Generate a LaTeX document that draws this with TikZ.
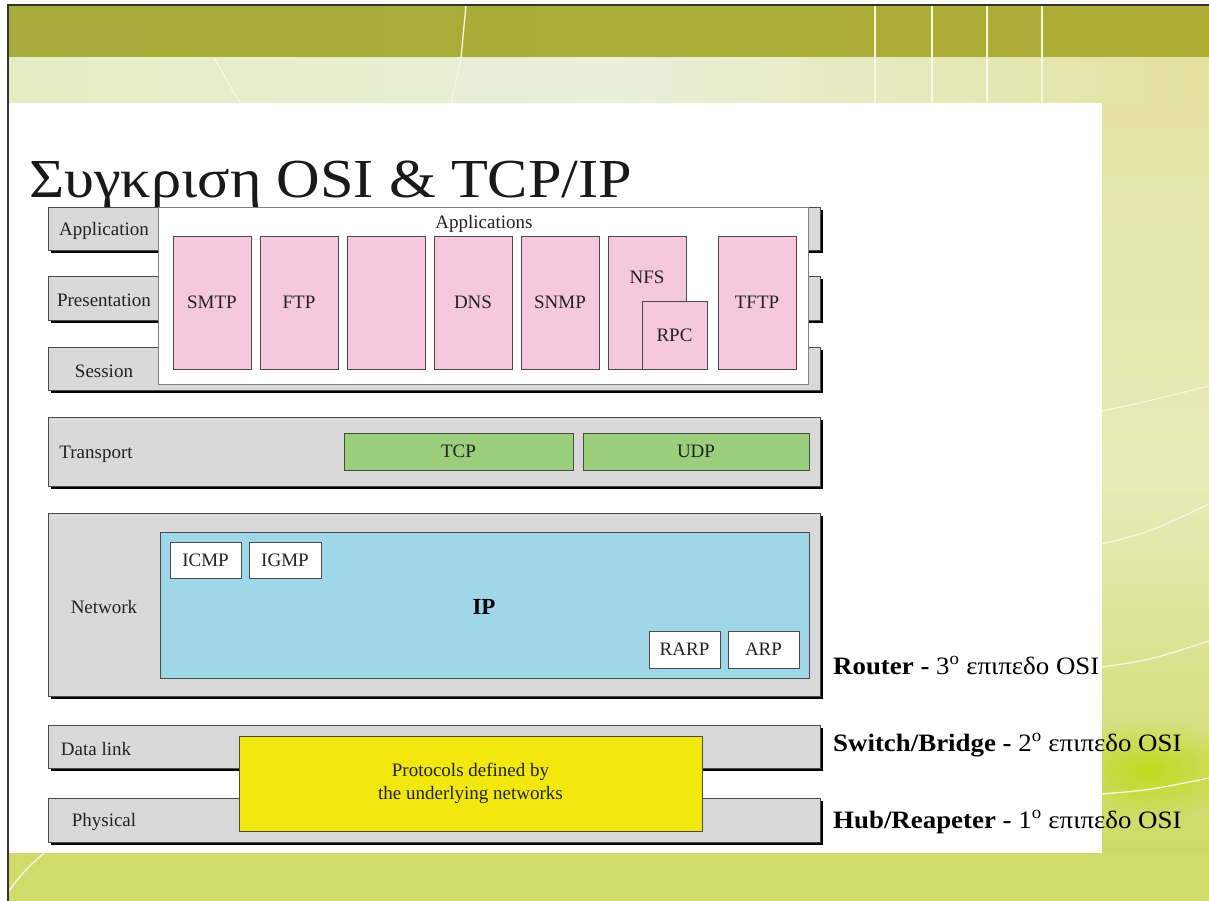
\documentclass[tikz,border=0pt]{standalone}
\usepackage{fontspec}
\setmainfont{Liberation Serif}
\usetikzlibrary{shadows,fadings}

% slide theme colours
\definecolor{bandDark}{HTML}{A6AD3A}
\definecolor{bandDarkR}{HTML}{AEAE36}
\definecolor{bandLightL}{HTML}{E6ECC2}
\definecolor{bandLightM}{HTML}{EAF0DA}
\definecolor{bandLightR}{HTML}{E3E29E}
\definecolor{sideTop}{HTML}{E4E3A4}
\definecolor{sideMid}{HTML}{E6EBB8}
\definecolor{sideLow}{HTML}{CDDA64}
\definecolor{bottomBand}{HTML}{CFDC6C}
\definecolor{glow}{HTML}{C2D81E}
\definecolor{themeLine}{HTML}{F6F8E0}
% diagram colours
\definecolor{barGray}{HTML}{D9D9D9}
\definecolor{edgeGray}{HTML}{4A4A4A}
\definecolor{appPink}{HTML}{F6C8DF}
\definecolor{tcpGreen}{HTML}{9BCF7C}
\definecolor{ipBlue}{HTML}{9ED8E8}
\definecolor{netYellow}{HTML}{F2E80E}
\definecolor{inkText}{HTML}{222222}

\tikzfading[name=softglow, inner color=transparent!0, outer color=transparent!100]

% device label, set slightly wide
\newcommand\devtext[2]{\scalebox{1.075}[1]{\textbf{#1 -} #2\textsuperscript{o} επιπεδο OSI}}

\begin{document}
\begin{tikzpicture}[x=1pt,y=-1pt,
  txt/.style={font=\fontsize{19}{23}\selectfont, text=inkText, inner sep=0pt},
  layerbar/.style={draw=edgeGray, line width=0.9pt, fill=barGray, inner sep=0pt,
    general shadow={fill=black, shadow xshift=3pt, shadow yshift=-3pt}},
  appframe/.style={draw=edgeGray!70, line width=0.9pt, fill=white, inner sep=0pt},
  protobox/.style={draw=edgeGray, line width=0.9pt, inner sep=0pt,
    font=\fontsize{19}{23}\selectfont, text=inkText},
  pinkbox/.style={protobox, fill=appPink, minimum width=78pt, minimum height=133pt},
  greenbox/.style={protobox, fill=tcpGreen, minimum height=37pt},
  smallbox/.style={protobox, fill=white, minimum width=71pt, minimum height=36pt},
  devlabel/.style={font=\fontsize{25}{30}\selectfont, text=black, anchor=base west, inner sep=0pt},
  themeline/.style={draw=themeLine, line width=1.3pt}
]
\useasboundingbox (0,0) rectangle (1209,901);

% ---- slide background ----
\fill[white] (0,0) rectangle (1209,901);
\shade[left color=bandDark, right color=bandDarkR] (8,5) rectangle (1209,58);
\shade[left color=bandLightL, right color=bandLightR, middle color=bandLightM] (8,58) rectangle (1209,103);
\shade[top color=sideTop, bottom color=sideLow, middle color=sideMid] (1102,103) rectangle (1209,860);
\fill[glow, path fading=softglow] (1150,770) ellipse (95pt and 50pt);
\fill[bottomBand] (8,853) rectangle (1209,901);
\fill[white] (8,103) rectangle (1102,853);

% decorative lines of the theme
\draw[themeline] (466,5) -- (461,58) -- (451,103);
\draw[themeline] (214,58) -- (240,103);
\foreach \xx in {875,932,987,1042} \draw[themeline] (\xx,5) -- (\xx,103);
\draw[themeline] (1102,411) .. controls (1140,403) .. (1209,386);
\draw[themeline] (1102,544) .. controls (1150,532) .. (1209,504);
\draw[themeline] (1102,667) .. controls (1150,660) .. (1209,641);
\draw[themeline] (1102,794) .. controls (1150,790) .. (1209,778);
\draw[themeline] (44,853) .. controls (25,870) .. (8,892);
\draw[draw=black!80, line width=1.4pt] (8,901) -- (8,5) -- (1209,5);

% ---- title ----
\node[anchor=base west, inner sep=0pt, font=\fontsize{55}{60}\selectfont, text=black!90]
  (title) at (29,198) {\scalebox{1.097}[1]{Συγκριση OSI \& TCP/IP}};

% ---- OSI layer bars ----
\node[layerbar, minimum width=772pt, minimum height=43pt] (appbar)  at (434,228.5) {};
\node[layerbar, minimum width=772pt, minimum height=44pt] (presbar) at (434,298) {};
\node[layerbar, minimum width=772pt, minimum height=43pt] (sessbar) at (434,368.5) {};
\node[layerbar, minimum width=772pt, minimum height=69pt] (transbar) at (434,451.5) {};
\node[layerbar, minimum width=772pt, minimum height=183pt] (netbar) at (434,604.5) {};
\node[layerbar, minimum width=772pt, minimum height=43pt] (dlbar)   at (434,746.5) {};
\node[layerbar, minimum width=772pt, minimum height=44pt] (physbar) at (434,820) {};

\node[txt] (lapp)   at (104,231) {Application};
\node[txt] (lpres)  at (104,300) {Presentation};
\node[txt] (lsess)  at (104,371) {Session};
\node[txt] (ltrans) at (96,454)  {Transport};
\node[txt] (lnet)   at (104,607) {Network};
\node[txt] (ldl)    at (96,749)  {Data link};
\node[txt] (lphys)  at (104,822) {Physical};

% ---- application layer protocols ----
\node[appframe, minimum width=650pt, minimum height=177pt] (apps) at (483,295.5) {};
\node[txt] (appstitle) at (484,224) {Applications};
\node[pinkbox] (smtp)  at (212,302.5) {SMTP};
\node[pinkbox] (ftp)   at (299,302.5) {FTP};
\node[pinkbox] (blank) at (386,302.5) {};
\node[pinkbox] (dns)   at (473,302.5) {DNS};
\node[pinkbox] (snmp)  at (560,302.5) {SNMP};
\node[pinkbox] (nfs)   at (647,302.5) {};
\node[txt] (nfstext) at (647,277) {NFS};
\node[protobox, fill=appPink, minimum width=65pt, minimum height=68pt] (rpc) at (674.5,335) {RPC};
\node[pinkbox] (tftp)  at (757,302.5) {TFTP};

% ---- transport layer ----
\node[greenbox, minimum width=229pt] (tcp) at (458.5,451.5) {TCP};
\node[greenbox, minimum width=226pt] (udp) at (696,451.5) {UDP};

% ---- network layer ----
\node[protobox, fill=ipBlue, minimum width=649pt, minimum height=146pt] (ip) at (484.5,605) {};
\node[font=\fontsize{23}{26}\selectfont\bfseries, text=black, inner sep=0pt] (iptext) at (484,607) {IP};
\node[smallbox] (icmp) at (205.5,560) {ICMP};
\node[smallbox, minimum width=72pt] (igmp) at (285,560) {IGMP};
\node[smallbox, minimum height=37pt] (rarp) at (684.5,649.5) {RARP};
\node[smallbox, minimum height=37pt] (arp)  at (763.5,649.5) {ARP};

% ---- data link and physical ----
\node[protobox, fill=netYellow, minimum width=463pt, minimum height=95pt, align=center]
  (under) at (470.5,783.5) {Protocols defined by\\the underlying networks};

% ---- devices per layer ----
\node[devlabel] (router) at (833,674) {\devtext{Router}{3}};
\node[devlabel] (switch) at (833,751) {\devtext{Switch/Bridge}{2}};
\node[devlabel] (hub)    at (833,828) {\devtext{Hub/Reapeter}{1}};
\end{tikzpicture}
\end{document}
